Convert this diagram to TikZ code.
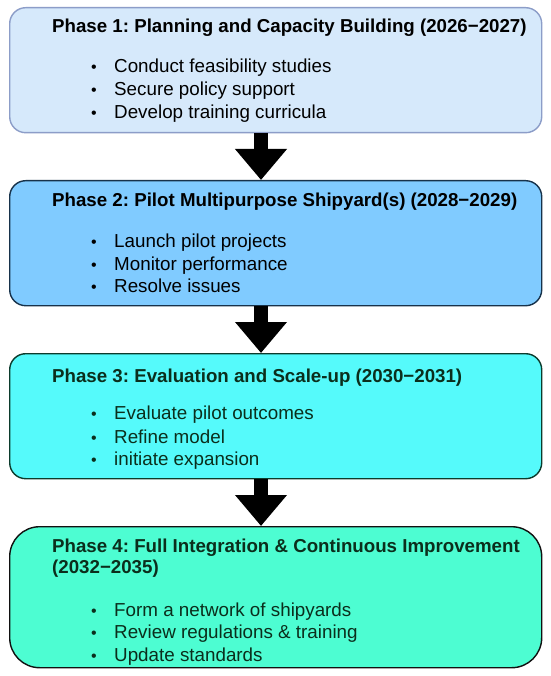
\documentclass[tikz,border=0pt]{standalone}
\usepackage{fontspec}
\setmainfont{Liberation Sans}
\usetikzlibrary{arrows.meta}
\definecolor{fillA}{HTML}{D6E9FB}
\definecolor{lineA}{HTML}{8C9DC8}
\definecolor{fillB}{HTML}{80CBFF}
\definecolor{lineB}{HTML}{17324A}
\definecolor{fillC}{HTML}{55FAFB}
\definecolor{lineC}{HTML}{0C3B2C}
\definecolor{fillD}{HTML}{4DFDD2}
\definecolor{lineD}{HTML}{111111}
\definecolor{txtG}{HTML}{0B2E1C}
\frenchspacing
\begin{document}
\begin{tikzpicture}[x=1pt,y=-1pt,
  phasebox/.style={draw, line width=1.4pt, rounded corners=16pt, anchor=north west,
    minimum width=532pt, inner sep=0pt},
  ttl/.style={anchor=base west, inner sep=0pt, font=\bfseries\fontsize{18.7}{22.5}\selectfont, align=left},
  itm/.style={anchor=base west, inner sep=0pt, font=\fontsize{18.8}{22}\selectfont},
  dot/.style={anchor=base, inner sep=0pt, font=\fontsize{16}{20}\selectfont},
  bigarrow/.style={line width=14pt, -{Triangle[width=50pt,length=31pt]}}
]
\useasboundingbox (0,0) rectangle (550,676);
\fill[white] (0,0) rectangle (550,676);

% boxes
\node[phasebox, draw=lineA, fill=fillA, minimum height=125pt] (b1) at (9,7) {};
\node[phasebox, draw=lineB, fill=fillB, minimum height=125pt] (b2) at (9,180) {};
\node[phasebox, draw=lineC, fill=fillC, minimum height=125pt] (b3) at (9,353) {};
\node[phasebox, draw=lineD, fill=fillD, minimum height=141pt, rounded corners=30pt] (b4) at (9,526) {};

% arrows
\coordinate (ax) at (261,0);
\draw[bigarrow] (b1.south -| ax) -- (b2.north -| ax);
\draw[bigarrow] (b2.south -| ax) -- (b3.north -| ax);
\draw[bigarrow] (b3.south -| ax) -- (b4.north -| ax);

% phase 1
\node[ttl] (t1) at (52,33) {Phase 1: Planning and Capacity Building (2026\textminus 2027)};
\node[dot] (d11) at (94,73) {•};
\node[itm] (i11) at (114,73) {Conduct feasibility studies};
\node[dot] (d12) at (94,96) {•};
\node[itm] (i12) at (114,96) {Secure policy support};
\node[dot] (d13) at (94,119) {•};
\node[itm] (i13) at (114,119) {Develop training curricula};

% phase 2
\node[ttl] (t2) at (52,207) {Phase 2: Pilot Multipurpose Shipyard(s) (2028\textminus 2029)};
\node[dot] (d21) at (94,247) {•};
\node[itm] (i21) at (114,247) {Launch pilot projects};
\node[dot] (d22) at (94,270) {•};
\node[itm] (i22) at (114,270) {Monitor performance};
\node[dot] (d23) at (94,292) {•};
\node[itm] (i23) at (114,292) {Resolve issues};

% phase 3
\begin{scope}[every node/.append style={text=txtG}]
\node[ttl] (t3) at (52,382) {Phase 3: Evaluation and Scale-up (2030\textminus 2031)};
\node[dot] (d31) at (94,419) {•};
\node[itm] (i31) at (114,419) {Evaluate pilot outcomes};
\node[dot] (d32) at (94,443) {•};
\node[itm] (i32) at (114,443) {Refine model};
\node[dot] (d33) at (94,465) {•};
\node[itm] (i33) at (114,465) {initiate expansion};

% phase 4
\node[ttl] (t4) at (52,552) {Phase 4: Full Integration \& Continuous Improvement};
\node[ttl] (t4b) at (52,573) {(2032\textminus 2035)};
\node[dot] (d41) at (94,616) {•};
\node[itm] (i41) at (114,616) {Form a network of shipyards};
\node[dot] (d42) at (94,638) {•};
\node[itm] (i42) at (114,638) {Review regulations \& training};
\node[dot] (d43) at (94,661) {•};
\node[itm] (i43) at (114,661) {Update standards};
\end{scope}
\end{tikzpicture}
\end{document}
